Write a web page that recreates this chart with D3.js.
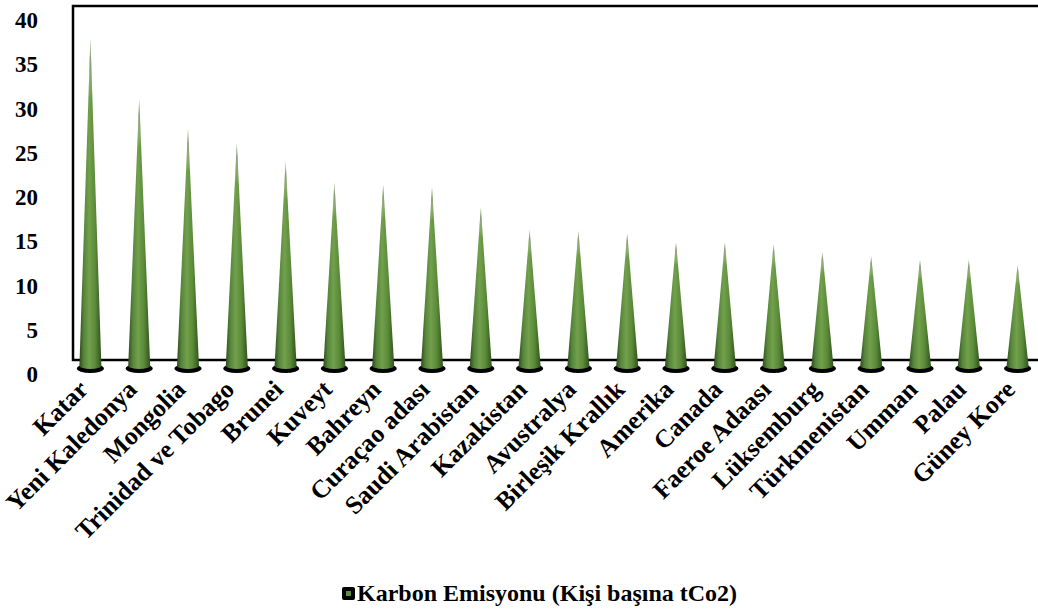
<!DOCTYPE html>
<html>
<head>
<meta charset="utf-8">
<script src="https://cdn.jsdelivr.net/npm/d3@7"></script>
<style>
  body { margin: 0; background: #fff; }
  text { font-family: "Liberation Serif", "Times New Roman", serif; font-weight: bold; fill: #000; }
</style>
</head>
<body>
<svg width="1038" height="612"></svg>
<script>
// countries (x categories)
var countries = ['Katar', 'Yeni Kaledonya', 'Mongolia', 'Trinidad ve Tobago', 'Brunei', 'Kuveyt',
    'Bahreyn', 'Curaçao adası', 'Saudi Arabistan', 'Kazakistan', 'Avustralya', 'Birleşik Krallık',
    'Amerika', 'Canada', 'Faeroe Adaası', 'Lüksemburg', 'Türkmenistan', 'Umman', 'Palau', 'Güney Kore'];

// carbon emission per person (tCo2)
var emissions = [37.9, 31.1, 27.7, 26.1, 24.0, 21.6, 21.4, 21.1, 18.8, 16.3,
    16.2, 15.9, 14.9, 14.9, 14.7, 13.8, 13.3, 12.9, 12.9, 12.3];

var yTicks = [0, 5, 10, 15, 20, 25, 30, 35, 40];
var legendLabel = 'Karbon Emisyonu (Kişi başına tCo2)';

var data = countries.map(function(c, i) { return { name: c, value: emissions[i] }; });

var svg = d3.select('svg');

// scales
var xScale = d3.scaleBand().domain(countries).range([66, 1042]);
var yScale = d3.scaleLinear().domain([0, 40]).range([374, 20]);

var defs = svg.append('defs');
var body = defs.append('linearGradient').attr('id', 'coneBody')
    .attr('x1', 0).attr('x2', 1).attr('y1', 0).attr('y2', 0);
body.append('stop').attr('offset', '0%').attr('stop-color', '#2f4a1b');
body.append('stop').attr('offset', '20%').attr('stop-color', '#55853a');
body.append('stop').attr('offset', '45%').attr('stop-color', '#72a04c');
body.append('stop').attr('offset', '72%').attr('stop-color', '#5a8a38');
body.append('stop').attr('offset', '100%').attr('stop-color', '#30501c');

var tip = defs.append('linearGradient').attr('id', 'coneTip')
    .attr('x1', 0).attr('x2', 0).attr('y1', 0).attr('y2', 1);
tip.append('stop').attr('offset', '0%').attr('stop-color', '#ffffff').attr('stop-opacity', 0.9);
tip.append('stop').attr('offset', '6%').attr('stop-color', '#9a9a9a').attr('stop-opacity', 0.6);
tip.append('stop').attr('offset', '18%').attr('stop-color', '#ffffff').attr('stop-opacity', 0);

// plot frame
svg.append('path')
    .attr('d', 'M1045,6 H73 V360 H1045')
    .attr('fill', 'none')
    .attr('stroke', '#000')
    .attr('stroke-width', 2.5);

// y axis labels
svg.append('g').selectAll('text')
    .data(yTicks)
    .enter().append('text')
    .attr('x', 38)
    .attr('y', function(d) { return yScale(d); })
    .attr('dy', '0.35em')
    .attr('text-anchor', 'end')
    .style('font-size', '23px')
    .text(function(d) { return d; });

// cones
var coneW = 11;
var base = yScale(0) - 8;
var cones = svg.append('g').selectAll('.cone')
    .data(data)
    .enter().append('g')
    .attr('class', 'cone');

cones.append('ellipse')
    .attr('cx', function(d) { return xScale(d.name) + xScale.bandwidth() / 2; })
    .attr('cy', base + 2.5)
    .attr('rx', 13.5)
    .attr('ry', 4.5)
    .attr('fill', '#000');

function conePath(d) {
    var cx = xScale(d.name) + xScale.bandwidth() / 2;
    return 'M' + (cx - coneW) + ',' + base +
        ' L' + cx + ',' + yScale(d.value) +
        ' L' + (cx + coneW) + ',' + base +
        ' A' + coneW + ',3 0 0 1 ' + (cx - coneW) + ',' + base + 'Z';
}

cones.append('path')
    .attr('d', conePath)
    .attr('fill', 'url(#coneBody)');
cones.append('path')
    .attr('d', conePath)
    .attr('fill', 'url(#coneTip)');

// x labels
svg.append('g').selectAll('text')
    .data(countries)
    .enter().append('text')
    .attr('text-anchor', 'end')
    .attr('transform', function(d) {
        return 'translate(' + (xScale(d) + xScale.bandwidth() / 2 - 1) + ',391) rotate(-45)';
    })
    .style('font-size', '25.5px')
    .text(function(d) { return d; });

// legend
var legend = svg.append('g');
legend.append('rect')
    .attr('x', 342).attr('y', 587).attr('width', 13).attr('height', 13)
    .attr('rx', 2).attr('fill', '#000');
legend.append('rect')
    .attr('x', 346).attr('y', 591).attr('width', 5).attr('height', 5)
    .attr('fill', '#5f8f3c');
legend.append('text')
    .attr('x', 357)
    .attr('y', 601)
    .style('font-size', '24px')
    .text(legendLabel);
</script>
</body>
</html>
